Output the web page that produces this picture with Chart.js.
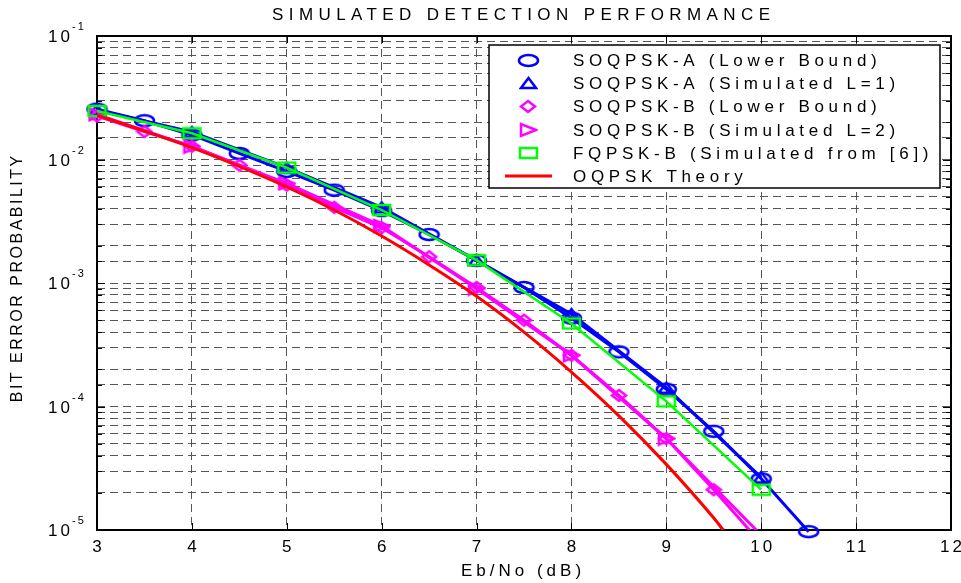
<!DOCTYPE html>
<html>
<head>
<meta charset="utf-8">
<script src="https://cdn.jsdelivr.net/npm/chart.js@4"></script>
<style>
  html, body { margin: 0; padding: 0; background: #fff; }
</style>
</head>
<body>
<canvas id="ber-chart" width="961" height="583"></canvas>

<script>
  const chartTitle = "SIMULATED DETECTION PERFORMANCE";
  const xAxisTitle = "Eb/No (dB)";
  const yAxisTitle = "BIT ERROR PROBABILITY";
  const xTickLabels = ["3", "4", "5", "6", "7", "8", "9", "10", "11", "12"];
  const yTickExponents = ["-1", "-2", "-3", "-4", "-5"];

  const seriesNames = [
    "SOQPSK-A (Lower Bound)",
    "SOQPSK-A (Simulated L=1)",
    "SOQPSK-B (Lower Bound)",
    "SOQPSK-B (Simulated L=2)",
    "FQPSK-B (Simulated from [6])",
    "OQPSK Theory",
  ];

  // Eb/No grids
  const ebnoHalfA = [3, 3.5, 4, 4.5, 5, 5.5, 6, 6.5, 7, 7.5, 8, 8.5, 9, 9.5, 10, 10.5];
  const ebnoHalfB = [3, 3.5, 4, 4.5, 5, 5.5, 6, 6.5, 7, 7.5, 8, 8.5, 9, 9.5, 10];
  const ebnoInt = [3, 4, 5, 6, 7, 8, 9, 10];
  const ebnoTheory = [3, 3.5, 4, 4.5, 5, 5.5, 6, 6.5, 7, 7.5, 8, 8.5, 9, 9.5, 9.6];

  // BER values
  const soqpskALower = [0.0256, 0.0206, 0.0158, 0.0112, 0.0080, 0.00565, 0.00385, 0.00247,
                        0.00152, 0.00092, 0.00052, 0.000277, 0.000138, 6.3e-5, 2.6e-5, 9.7e-6];
  const soqpskASim = [0.0252, 0.0167, 0.0086, 0.0041, 0.00153, 0.00056, 0.000142, 2.67e-5];
  const soqpskBLower = [0.0225, 0.0168, 0.0128, 0.0090, 0.0062, 0.0041, 0.0028, 0.00163,
                        0.00092, 0.00050, 0.00026, 0.000123, 5.5e-5, 2.12e-5, 7.8e-6];
  const soqpskBSim = [0.0232, 0.0127, 0.0064, 0.0029, 0.00090, 0.00026, 5.5e-5, 9.1e-6];
  const fqpskBSim = [0.0247, 0.0163, 0.0086, 0.0039, 0.00153, 0.00047, 0.00011, 2.12e-5];
  const oqpskTheory = [0.0228, 0.0170, 0.0125, 0.0088, 0.0060, 0.0039, 0.0024, 0.0014,
                       0.00078, 0.00040, 0.00019, 8.4e-5, 3.4e-5, 1.25e-5, 1.0e-5];

  const FONT = "'Liberation Sans', Arial, sans-serif";

  // squashed matlab-style markers
  function makeMarker(shape, color, w, h) {
    const c = document.createElement('canvas');
    c.width = w + 4;
    c.height = h + 4;
    const g = c.getContext('2d');
    g.strokeStyle = color;
    g.lineWidth = 2.5;
    const cx = c.width / 2, cy = c.height / 2, rx = w / 2, ry = h / 2;
    g.beginPath();
    if (shape === 'circle') {
      g.ellipse(cx, cy, rx, ry, 0, 0, Math.PI * 2);
    } else if (shape === 'triangle') {
      g.moveTo(cx, cy - ry); g.lineTo(cx + rx, cy + ry); g.lineTo(cx - rx, cy + ry); g.closePath();
    } else if (shape === 'diamond') {
      g.moveTo(cx, cy - ry); g.lineTo(cx + rx, cy); g.lineTo(cx, cy + ry); g.lineTo(cx - rx, cy); g.closePath();
    } else if (shape === 'triright') {
      g.moveTo(cx + rx, cy); g.lineTo(cx - rx, cy - ry); g.lineTo(cx - rx, cy + ry); g.closePath();
    } else if (shape === 'square') {
      g.rect(cx - rx, cy - ry, w, h);
    }
    g.stroke();
    return c;
  }

  const markers = [
    makeMarker('circle', '#0000ff', 19, 11),
    makeMarker('triangle', '#0000ff', 15, 10),
    makeMarker('diamond', '#ff00ff', 14, 11),
    makeMarker('triright', '#ff00ff', 15, 12),
    makeMarker('square', '#00ff00', 17, 10),
    null,
  ];

  function pts(xs, ys) {
    return xs.map((x, i) => ({ x: x, y: ys[i] }));
  }

  function spacedText(ctx, text, x, y, font, spacing, align, baseline) {
    ctx.save();
    ctx.font = font;
    ctx.fillStyle = '#000';
    ctx.textAlign = 'left';
    ctx.textBaseline = baseline || 'alphabetic';
    let w;
    if ('letterSpacing' in ctx) {
      ctx.letterSpacing = spacing + 'px';
      w = ctx.measureText(text).width - spacing;
    } else {
      w = ctx.measureText(text).width;
    }
    let sx = x;
    if (align === 'center') sx = x - w / 2;
    if (align === 'right') sx = x - w;
    ctx.fillText(text, sx, y);
    ctx.restore();
  }

  const frameAndLabels = {
    id: 'frameAndLabels',
    beforeDatasetsDraw(chart) {
      const ctx = chart.ctx;
      const a = chart.chartArea;
      const xs = chart.scales.x, ys = chart.scales.y;
      ctx.save();
      ctx.strokeStyle = '#000';
      ctx.lineWidth = 1;
      ctx.beginPath();
      xs.ticks.forEach(t => {
        const px = Math.round(xs.getPixelForValue(t.value)) + 0.5;
        ctx.moveTo(px, a.bottom); ctx.lineTo(px, a.bottom - 7);
        ctx.moveTo(px, a.top); ctx.lineTo(px, a.top + 7);
      });
      ys.ticks.forEach(t => {
        const py = Math.round(ys.getPixelForValue(t.value)) + 0.5;
        const mant = t.value / Math.pow(10, Math.floor(Math.log10(t.value) + 1e-9));
        const len = Math.abs(mant - 1) < 1e-6 ? 8 : 5;
        ctx.moveTo(a.left, py); ctx.lineTo(a.left + len, py);
        ctx.moveTo(a.right, py); ctx.lineTo(a.right - len, py);
      });
      ctx.stroke();
      ctx.lineWidth = 2;
      ctx.strokeRect(a.left, a.top, a.right - a.left, a.bottom - a.top);
      ctx.restore();
    },
    afterDraw(chart) {
      const ctx = chart.ctx;
      const a = chart.chartArea;
      const xs = chart.scales.x, ys = chart.scales.y;

      spacedText(ctx, chartTitle, (a.left + a.right) / 2 - 3, 20, '17px ' + FONT, 5.4, 'center');

      xTickLabels.forEach(lbl => {
        const px = xs.getPixelForValue(Number(lbl));
        spacedText(ctx, lbl, px, 552, '17px ' + FONT, 3, 'center');
      });
      spacedText(ctx, xAxisTitle, (a.left + a.right) / 2 - 3, 576, '17px ' + FONT, 4, 'center');

      yTickExponents.forEach(e => {
        const py = ys.getPixelForValue(Math.pow(10, Number(e)));
        spacedText(ctx, '10', 70, py + 6, '17px ' + FONT, 3, 'right');
        spacedText(ctx, e, 72, py - 6, '11px ' + FONT, 2, 'left');
      });

      ctx.save();
      ctx.translate(18, (a.top + a.bottom) / 2 - 4);
      ctx.rotate(-Math.PI / 2);
      spacedText(ctx, yAxisTitle, 0, 0, '16px ' + FONT, 2.5, 'center', 'middle');
      ctx.restore();

      // legend box
      const box = { left: 489, top: 45, right: 940, bottom: 188 };
      ctx.save();
      ctx.fillStyle = '#fff';
      ctx.fillRect(box.left, box.top, box.right - box.left, box.bottom - box.top);
      ctx.strokeStyle = '#000';
      ctx.lineWidth = 1.5;
      ctx.strokeRect(box.left, box.top, box.right - box.left, box.bottom - box.top);
      chart.data.datasets.forEach((ds, i) => {
        const cy = 60 + i * 23.2;
        if (markers[i]) {
          const m = markers[i];
          ctx.drawImage(m, Math.round(528 - m.width / 2), Math.round(cy - m.height / 2));
        } else {
          ctx.strokeStyle = ds.borderColor;
          ctx.lineWidth = 3;
          ctx.beginPath();
          ctx.moveTo(505, cy); ctx.lineTo(552, cy);
          ctx.stroke();
        }
        spacedText(ctx, ds.label, 573, cy + 6, '17px ' + FONT, 4.7, 'left');
      });
      ctx.restore();
    }
  };

  function series(i, xs, ys, color, width, clipBottom) {
    return {
      label: seriesNames[i],
      data: pts(xs, ys),
      borderColor: color,
      backgroundColor: color,
      borderWidth: width,
      pointStyle: markers[i],
      pointRadius: 2,
      pointBorderWidth: 1,
      pointHoverRadius: 2,
      tension: 0,
      fill: false,
      clip: { left: 14, top: 0, right: 0, bottom: clipBottom },
      order: 10 - i,
    };
  }

  const datasets = [
    series(0, ebnoHalfA, soqpskALower, '#0000ff', 3, 10),
    series(1, ebnoInt, soqpskASim, '#0000ff', 3, 10),
    series(2, ebnoHalfB, soqpskBLower, '#ff00ff', 3, 0),
    series(3, ebnoInt, soqpskBSim, '#ff00ff', 3, 0),
    series(4, ebnoInt, fqpskBSim, '#00ff00', 2.5, 10),
    {
      label: seriesNames[5],
      data: pts(ebnoTheory, oqpskTheory),
      borderColor: '#ff0000',
      backgroundColor: '#ff0000',
      borderWidth: 3,
      pointRadius: 0,
      cubicInterpolationMode: 'monotone',
      fill: false,
      clip: 0,
      order: 4,
    },
  ];

  const gridStyle = { color: '#555555', lineWidth: 1, drawTicks: false };

  new Chart(document.getElementById('ber-chart'), {
    type: 'line',
    data: { datasets: datasets },
    options: {
      responsive: false,
      animation: false,
      devicePixelRatio: 1,
      events: [],
      layout: { padding: { left: 97, right: 10, top: 36, bottom: 53 } },
      plugins: { legend: { display: false }, tooltip: { enabled: false } },
      scales: {
        x: {
          type: 'linear', min: 3, max: 12,
          ticks: { display: false, stepSize: 1 },
          grid: gridStyle,
          border: { display: false, dash: [8, 5] },
        },
        y: {
          type: 'logarithmic', min: 1e-5, max: 1e-1,
          ticks: { display: false },
          grid: gridStyle,
          border: { display: false, dash: [8, 5] },
        },
      },
    },
    plugins: [frameAndLabels],
  });
</script>
</body>
</html>
